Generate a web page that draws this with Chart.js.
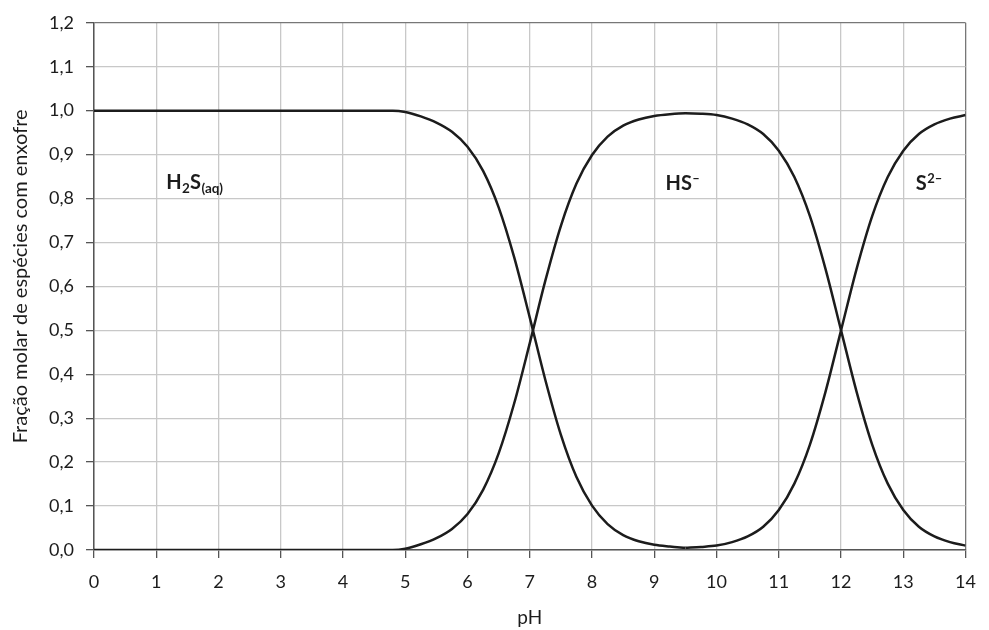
<!DOCTYPE html>
<html lang="pt">
  <head>
    <meta charset="UTF-8" />
    <title>Fração molar de espécies com enxofre</title>
    <script src="https://cdn.jsdelivr.net/npm/chart.js"></script>
    <style>
      html, body {
        margin: 0;
        padding: 0;
        background: #fff;
      }
      #wrap {
        width: 989px;
        height: 630px;
      }
    </style>
  </head>
  <body>
    <div id="wrap"><canvas id="speciesChart"></canvas></div>

    <script>
      // values
      const phH2S = [0, 1, 2, 3, 4, 4.5, 4.8, 5, 5.25, 5.5, 5.75, 6, 6.25, 6.5, 6.75, 7, 7.25, 7.5, 7.75, 8, 8.25, 8.5, 8.75, 9, 9.25, 9.5];
      const fracH2S = [1, 1, 1, 1, 1, 1, 1, 0.997, 0.987, 0.973, 0.952, 0.918, 0.863, 0.78, 0.666, 0.529, 0.387, 0.262, 0.166, 0.101, 0.059, 0.034, 0.02, 0.012, 0.008, 0.005];

      const phHS = [0, 1, 2, 3, 4, 4.5, 4.8, 5, 5.25, 5.5, 5.75, 6, 6.25, 6.5, 6.75, 7, 7.25, 7.5, 7.75, 8, 8.25, 8.5, 8.75, 9, 9.25, 9.5,
        9.75, 10, 10.25, 10.5, 10.75, 11, 11.25, 11.5, 11.75, 12, 12.25, 12.5, 12.75, 13, 13.25, 13.5, 13.75, 14];
      const fracHS = [0, 0, 0, 0, 0, 0, 0, 0.003, 0.013, 0.027, 0.048, 0.082, 0.137, 0.22, 0.334, 0.471, 0.613, 0.738, 0.834, 0.899, 0.941, 0.966, 0.98, 0.988, 0.992, 0.994,
        0.993, 0.99, 0.982, 0.969, 0.947, 0.909, 0.849, 0.76, 0.64, 0.5, 0.36, 0.24, 0.151, 0.091, 0.053, 0.031, 0.018, 0.01];

      const phS2 = [9.5, 9.75, 10, 10.25, 10.5, 10.75, 11, 11.25, 11.5, 11.75, 12, 12.25, 12.5, 12.75, 13, 13.25, 13.5, 13.75, 14];
      const fracS2 = [0.005, 0.007, 0.01, 0.018, 0.031, 0.053, 0.091, 0.151, 0.24, 0.36, 0.5, 0.64, 0.76, 0.849, 0.909, 0.947, 0.969, 0.982, 0.99];

      // species names written inside the plot (pH, fraction at the text middle)
      const speciesLabels = [
        { parts: [["H", "n"], ["2", "sub"], ["S", "n"], ["(aq)", "sub"]], ph: 1.16, frac: 0.838 },
        { parts: [["HS", "n"], ["–", "sup"]], ph: 9.18, frac: 0.835 },
        { parts: [["S", "n"], ["2–", "sup"]], ph: 13.2, frac: 0.835 },
      ];

      const FONT = "Lato, 'Open Sans', sans-serif";
      const INK = "#1c1c1c";

      const toPoints = (xs, ys) => xs.map((x, i) => ({ x: x, y: ys[i] }));
      const fmt = (v) => v.toFixed(1).replace(".", ",");

      const speciesLabelPlugin = {
        id: "speciesLabels",
        afterDatasetsDraw(chart) {
          const ctx = chart.ctx;
          const xs = chart.scales.x;
          const ys = chart.scales.y;
          ctx.save();
          ctx.fillStyle = INK;
          ctx.textBaseline = "alphabetic";
          ctx.textAlign = "left";
          speciesLabels.forEach((lab) => {
            let x = xs.getPixelForValue(lab.ph);
            const base = ys.getPixelForValue(lab.frac) + 7;
            lab.parts.forEach(([txt, kind]) => {
              let size = 20, dy = 0;
              if (kind === "sub") { size = 13.5; dy = 4; }
              if (kind === "sup") { size = 13; dy = -7; }
              ctx.font = "bold " + size + "px " + FONT;
              ctx.fillText(txt, x, base + dy);
              x += ctx.measureText(txt).width + (kind === "n" ? 0.5 : 0);
            });
          });
          ctx.restore();
        },
      };

      const lineStyle = {
        borderColor: INK,
        borderWidth: 2.5,
        pointRadius: 0,
        fill: false,
        cubicInterpolationMode: "monotone",
      };

      new Chart(document.getElementById("speciesChart"), {
        type: "line",
        data: {
          datasets: [
            { label: "H2S(aq)", data: toPoints(phH2S, fracH2S), ...lineStyle },
            { label: "HS-", data: toPoints(phHS, fracHS), ...lineStyle },
            { label: "S2-", data: toPoints(phS2, fracS2), ...lineStyle },
          ],
        },
        options: {
          responsive: true,
          maintainAspectRatio: false,
          animation: false,
          layout: { padding: { top: 20, right: 16, left: 0, bottom: 0 } },
          plugins: {
            legend: { display: false },
            tooltip: { enabled: false },
          },
          scales: {
            x: {
              type: "linear",
              min: 0,
              max: 14,
              afterFit: (s) => { s.height = 80; },
              ticks: {
                stepSize: 1,
                color: INK,
                padding: 13,
                font: { family: FONT, size: 18 },
              },
              grid: {
                color: (c) => (c.tick && c.tick.value === 14 ? "#777" : "#c8c8c8"),
                lineWidth: 1.3,
                tickLength: 8,
                tickColor: "#555",
              },
              border: { color: "#555", width: 1.5 },
              title: {
                display: true,
                text: "pH",
                color: INK,
                font: { family: FONT, size: 19 },
                padding: { top: 0, bottom: 1 },
              },
            },
            y: {
              min: 0,
              max: 1.2,
              afterFit: (s) => { s.width = 94; },
              ticks: {
                stepSize: 0.1,
                color: INK,
                padding: 12,
                callback: (v) => fmt(v),
                font: { family: FONT, size: 18 },
              },
              grid: {
                color: (c) => (c.tick && Math.abs(c.tick.value - 1.2) < 1e-6 ? "#777" : "#c8c8c8"),
                lineWidth: 1.3,
                tickLength: 8,
                tickColor: "#555",
              },
              border: { color: "#555", width: 1.5 },
              title: {
                display: true,
                // two en spaces in front nudge the text a little up the axis, as in the original
                text: "\u2002\u2002Fração molar de espécies com enxofre",
                color: INK,
                font: { family: FONT, size: 20 },
                padding: { top: 9, bottom: 0 },
              },
            },
          },
        },
        plugins: [speciesLabelPlugin],
      });
    </script>
  </body>
</html>
